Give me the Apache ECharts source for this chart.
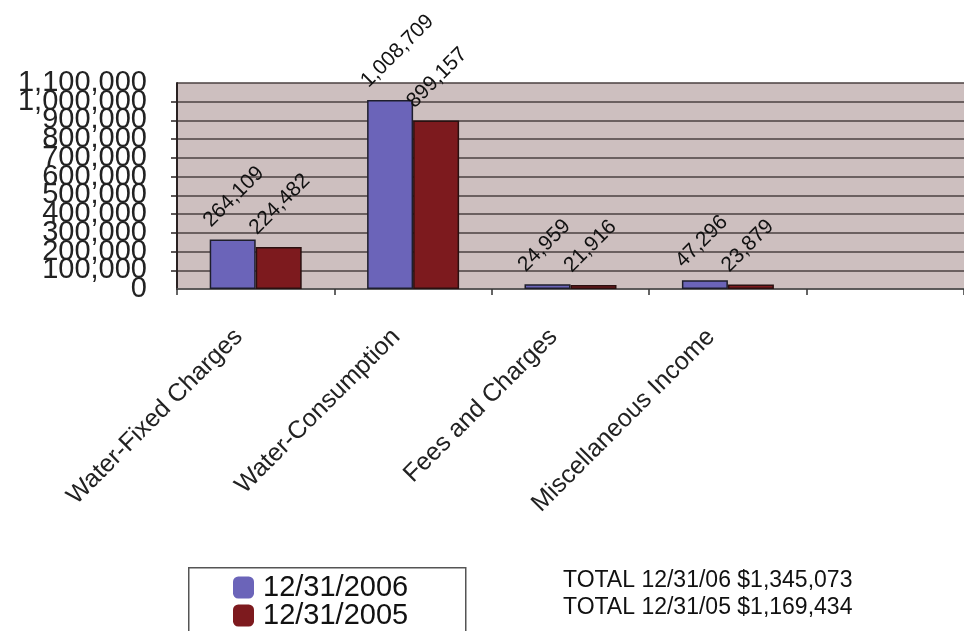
<!DOCTYPE html>
<html>
<head>
<meta charset="utf-8">
<script src="https://cdn.jsdelivr.net/npm/echarts@6/dist/echarts.min.js"></script>
<style>
  html, body { margin: 0; padding: 0; background: #ffffff; }
  #chart { width: 964px; height: 631px; }
</style>
</head>
<body>
<div id="chart"></div>
<script>
// ---- data ----
const categories = ['Water-Fixed Charges', 'Water-Consumption', 'Fees and Charges', 'Miscellaneous Income', ''];
const seriesNames = ['12/31/2006', '12/31/2005'];
const values2006 = [264109, 1008709, 24959, 47296, null];
const values2005 = [224482, 899157, 21916, 23879, null];
const yTicks = { min: 0, max: 1100000, interval: 100000 };
const totals = ['TOTAL 12/31/06 $1,345,073', 'TOTAL 12/31/05 $1,169,434'];

const FONT = '"Liberation Sans", Arial, Helvetica, sans-serif';
const fmt = v => Number(v).toLocaleString('en-US');

const barLabel = {
  show: true,
  position: 'top',
  distance: 0,
  rotate: 45,
  align: 'left',
  verticalAlign: 'bottom',
  offset: [-7, -19],
  fontFamily: FONT,
  fontSize: 21,
  color: '#111',
  formatter: p => fmt(p.value)
};

const legendCommon = {
  orient: 'vertical',
  left: 233,
  icon: 'roundRect',
  itemWidth: 21,
  itemHeight: 22,
  itemGap: 0,
  padding: 0,
  itemStyle: { borderWidth: 0 },
  textStyle: { fontFamily: FONT, fontSize: 29, color: '#111', lineHeight: 29, padding: [0, 0, 0, 4] }
};

const yLabelBase = { margin: 30, fontFamily: FONT, fontSize: 29, color: '#222' };

const chart = echarts.init(document.getElementById('chart'), null, { renderer: 'canvas' });
chart.setOption({
  animation: false,
  backgroundColor: '#ffffff',
  title: {
    text: totals.join('\n'),
    left: 563,
    top: 567,
    padding: 0,
    textStyle: { fontFamily: FONT, fontSize: 23, fontWeight: 'normal', color: '#111', lineHeight: 27 }
  },
  graphic: [{
    type: 'rect',
    left: 188,
    top: 567,
    z: 1,
    shape: { width: 277, height: 80 },
    style: { fill: '#ffffff', stroke: '#555', lineWidth: 1.5 }
  }],
  legend: [
    Object.assign({}, legendCommon, { top: 573, data: [seriesNames[0]] }),
    Object.assign({}, legendCommon, { top: 601, data: [seriesNames[1]] })
  ],
  grid: {
    left: 177,
    top: 83,
    width: 795,
    bottom: 342,
    show: true,
    backgroundColor: '#cdbfbf',
    borderWidth: 0,
    containLabel: false
  },
  xAxis: {
    type: 'category',
    data: categories,
    boundaryGap: true,
    axisLine: { show: true, lineStyle: { color: '#555', width: 1.5 } },
    axisTick: { show: true, length: 6, lineStyle: { color: '#333', width: 1.5 } },
    axisLabel: {
      interval: 0,
      rotate: 45,
      margin: 27,
      padding: [0, 24, 0, 0],
      fontFamily: FONT,
      fontSize: 25,
      color: '#222'
    },
    splitLine: { show: false }
  },
  yAxis: [
    {
      type: 'value',
      position: 'left',
      min: yTicks.min,
      max: yTicks.max,
      interval: yTicks.interval,
      axisLine: { show: true, lineStyle: { color: '#2a2222', width: 2 } },
      axisTick: { show: true, length: 6, lineStyle: { color: '#2a2222', width: 1.5 } },
      axisLabel: Object.assign({}, yLabelBase, {
        showMinLabel: false,
        showMaxLabel: false,
        formatter: v => fmt(v)
      }),
      splitLine: { show: true, lineStyle: { color: '#4a4040', width: 1.6 } }
    },
    {
      type: 'value',
      position: 'left',
      offset: 0,
      min: yTicks.min,
      max: yTicks.max,
      interval: yTicks.interval,
      axisLine: { show: false },
      axisTick: { show: false },
      axisLabel: Object.assign({}, yLabelBase, {
        showMinLabel: true,
        showMaxLabel: true,
        formatter: v => (v === yTicks.min || v === yTicks.max) ? fmt(v) : ''
      }),
      splitLine: { show: false }
    }
  ],
  series: [
    {
      name: seriesNames[0],
      type: 'bar',
      data: values2006,
      barWidth: 46,
      barGap: '0%',
      itemStyle: { color: '#6b64b9', borderColor: '#1e1e2c', borderWidth: 1.5 },
      label: barLabel
    },
    {
      name: seriesNames[1],
      type: 'bar',
      data: values2005,
      barWidth: 46,
      barGap: '0%',
      itemStyle: { color: '#7d1a1e', borderColor: '#2a1010', borderWidth: 1.5 },
      label: barLabel
    }
  ]
});
</script>
</body>
</html>
